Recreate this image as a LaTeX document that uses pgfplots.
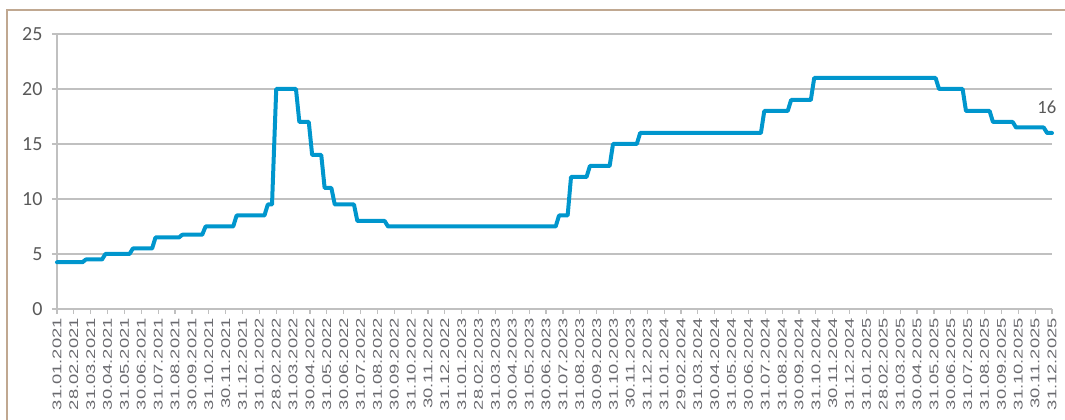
\documentclass[border=0pt]{standalone}
\usepackage{pgfplots}
\pgfplotsset{compat=1.18}
\usepackage{fontspec}
\setmainfont{Carlito}
\newfontfamily\arialf{Liberation Sans}
\definecolor{rateblue}{RGB}{0,150,205}
\definecolor{gridgray}{RGB}{192,192,192}
\definecolor{ylab}{RGB}{89,89,89}
\definecolor{xlab}{RGB}{105,105,110}
\definecolor{frametan}{RGB}{192,168,145}
\newcommand\XL[1]{\scalebox{1.45}[1]{#1}}
\begin{document}
\begin{tikzpicture}[x=0.75pt,y=0.75pt]
\begin{axis}[
  at={(42.75pt,83.25pt)}, anchor=south west,
  scale only axis, width=746.25pt, height=206.25pt,
  xmin=0, xmax=59, ymin=0, ymax=25,
  axis x line=bottom, axis y line=left,
  axis line style={draw=gridgray, line width=1.1pt, -},
  ytick={0,5,10,15,20,25},
  xtick={0,1,...,59},
  ymajorgrids, grid style={draw=gridgray, line width=1.1pt},
  tick align=outside, major tick length=3.75pt,
  tick style={draw=gridgray, line width=0.9pt},
  /pgf/number format/assume math mode=true,
  yticklabel style={font=\fontsize{15}{15}\selectfont, text=ylab, inner sep=0pt, xshift=-7pt},
  xticklabel style={font=\arialf\fontsize{9.5}{10}\selectfont, text=xlab, rotate=90, anchor=east, inner sep=0pt, xshift=-3pt},
  xticklabels={
    \XL{31.01.2021},\XL{28.02.2021},\XL{31.03.2021},\XL{30.04.2021},\XL{31.05.2021},\XL{30.06.2021},
    \XL{31.07.2021},\XL{31.08.2021},\XL{30.09.2021},\XL{31.10.2021},\XL{30.11.2021},\XL{31.12.2021},
    \XL{31.01.2022},\XL{28.02.2022},\XL{31.03.2022},\XL{30.04.2022},\XL{31.05.2022},\XL{30.06.2022},
    \XL{31.07.2022},\XL{31.08.2022},\XL{30.09.2022},\XL{31.10.2022},\XL{30.11.2022},\XL{31.12.2022},
    \XL{31.01.2023},\XL{28.02.2023},\XL{31.03.2023},\XL{30.04.2023},\XL{31.05.2023},\XL{30.06.2023},
    \XL{31.07.2023},\XL{31.08.2023},\XL{30.09.2023},\XL{31.10.2023},\XL{30.11.2023},\XL{31.12.2023},
    \XL{31.01.2024},\XL{29.02.2024},\XL{31.03.2024},\XL{30.04.2024},\XL{31.05.2024},\XL{30.06.2024},
    \XL{31.07.2024},\XL{31.08.2024},\XL{30.09.2024},\XL{31.10.2024},\XL{30.11.2024},\XL{31.12.2024},
    \XL{31.01.2025},\XL{28.02.2025},\XL{31.03.2025},\XL{30.04.2025},\XL{31.05.2025},\XL{30.06.2025},
    \XL{31.07.2025},\XL{31.08.2025},\XL{30.09.2025},\XL{31.10.2025},\XL{30.11.2025},\XL{31.12.2025}},
  clip=false,
]
\addplot[rateblue, line width=3pt, line join=round, line cap=round] coordinates {
(0,4.25) (1.51,4.25) (1.71,4.5) (2.67,4.5) (2.87,5) (4.3,5) (4.5,5.5) (5.64,5.5) (5.84,6.5)
(7.23,6.5) (7.43,6.75) (8.61,6.75) (8.81,7.5) (10.45,7.5) (10.65,8.5) (12.3,8.5) (12.5,9.5)
(12.75,9.5) (13.0,20) (14.17,20) (14.37,17) (14.93,17) (15.13,14) (15.67,14) (15.87,11)
(16.27,11) (16.47,9.5) (17.61,9.5) (17.81,8) (19.43,8) (19.63,7.5) (29.57,7.5) (29.77,8.5)
(30.28,8.5) (30.48,12) (31.4,12) (31.6,13) (32.77,13) (32.97,15) (34.38,15) (34.58,16)
(41.74,16) (41.94,18) (43.33,18) (43.53,19) (44.7,19) (44.9,21) (52.1,21) (52.3,20)
(53.7,20) (53.9,18) (55.3,18) (55.5,17) (56.67,17) (56.87,16.5) (58.51,16.5) (58.71,16) (59,16)
};
\node[anchor=south, inner sep=0pt, text=ylab, font=\fontsize{14}{14}\selectfont] at (axis cs:58.7,17.7) {16};
\end{axis}
\draw[frametan, line width=1.5pt] (7,-20) -- (7,410) -- (1100,410);
\pgfresetboundingbox
\path[use as bounding box] (0,0) rectangle (1065,420);
\end{tikzpicture}
\end{document}
